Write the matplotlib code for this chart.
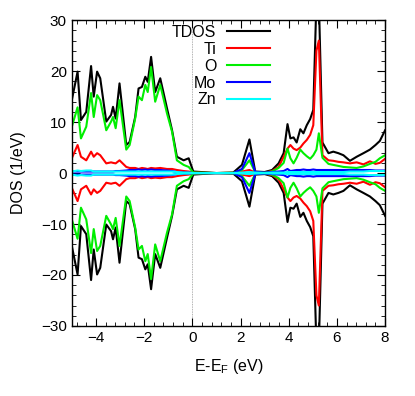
import matplotlib
matplotlib.use("Agg")
import matplotlib.pyplot as plt
from matplotlib.ticker import MultipleLocator

plt.rcParams['font.family'] = ['Liberation Sans', 'DejaVu Sans']
plt.rcParams['font.size'] = 11
plt.rcParams['mathtext.fontset'] = 'custom'
plt.rcParams['mathtext.rm'] = 'Liberation Sans'
plt.rcParams['mathtext.it'] = 'Liberation Sans'

# energy grid (eV, relative to E_F)
energy = [-5.0, -4.76, -4.62, -4.40, -4.20, -4.09, -3.95, -3.82, -3.57, -3.37,
          -3.29, -3.18, -3.02, -2.74, -2.60, -2.37, -2.23, -2.09, -1.95, -1.85,
          -1.71, -1.54, -1.33, -1.05, -0.84, -0.64, -0.36, -0.15, 0.04, 1.0,
          1.70, 2.06, 2.37, 2.61, 3.0, 3.31, 3.58, 3.79, 3.95, 4.07,
          4.20, 4.33, 4.48, 4.61, 4.75, 4.89, 5.02, 5.15, 5.25, 5.40,
          5.65, 5.85, 6.06, 6.27, 6.54, 6.82, 7.1, 7.37, 7.6, 7.78, 8.0]

tdos = [14.3, 19.9, 10.4, 12.0, 21.0, 15.0, 19.9, 18.6, 10.1, 11.4,
        13.0, 10.7, 17.6, 5.5, 6.1, 11.0, 16.6, 16.9, 18.9, 17.9,
        22.8, 15.9, 18.6, 12.7, 8.4, 3.2, 2.5, 2.9, 0.3, 0.0,
        0.1, 1.6, 6.6, 0.3, 0.2, 0.6, 1.9, 3.9, 9.6, 6.8,
        7.0, 6.0, 8.6, 7.8, 9.4, 10.6, 12.4, 34.0, 34.0, 6.0,
        3.9, 4.2, 3.9, 3.5, 2.4, 3.2, 3.9, 4.6, 5.5, 6.3, 8.4]

ti = [2.9, 5.5, 3.2, 2.5, 4.2, 3.2, 3.9, 3.5, 1.9, 2.1,
      2.0, 1.9, 2.5, 1.2, 1.0, 1.0, 0.8, 1.0, 0.9, 0.8,
      1.0, 0.9, 1.0, 0.8, 0.8, 0.6, 0.4, 0.3, 0.1, 0.0,
      0.05, 0.3, 0.6, 0.1, 0.1, 0.4, 1.2, 3.2, 4.8, 5.5,
      4.8, 4.5, 5.0, 5.8, 6.5, 7.5, 9.4, 24.0, 26.0, 3.5,
      2.5, 2.4, 2.2, 2.1, 1.9, 2.1, 1.7, 2.3, 1.8, 2.0, 2.8]

o = [9.1, 12.9, 6.8, 9.1, 15.7, 11.0, 15.3, 14.3, 8.4, 10.1,
     11.0, 8.8, 14.3, 4.6, 5.5, 10.7, 15.0, 14.3, 17.3, 15.9,
     20.8, 14.0, 17.3, 11.7, 8.1, 2.5, 1.6, 1.2, 0.1, 0.0,
     0.05, 0.6, 2.5, 0.2, 0.1, 0.3, 1.0, 2.0, 4.8, 2.9,
     1.9, 3.0, 4.6, 3.9, 3.3, 2.8, 3.5, 4.6, 7.8, 3.0,
     1.8, 1.6, 1.4, 1.2, 1.1, 1.0, 1.3, 1.8, 2.2, 2.9, 3.5]

mo = [0.3, 0.3, 0.3, 0.3, 0.3, 0.3, 0.3, 0.3, 0.3, 0.3,
      0.3, 0.4, 0.4, 0.5, 0.6, 0.6, 0.7, 0.6, 0.7, 0.6,
      0.7, 0.6, 0.6, 0.5, 0.4, 0.2, 0.1, 0.1, 0.0, 0.0,
      0.0, 0.8, 3.9, 0.2, 0.1, 0.2, 0.3, 0.4, 0.8, 0.4,
      0.5, 0.6, 0.6, 0.7, 0.6, 0.6, 0.7, 0.6, 0.6, 0.6,
      0.6, 0.6, 0.6, 0.6, 0.6, 0.6, 0.6, 0.6, 0.5, 0.5, 0.5]

zn = [0.3, 0.5, 0.4, 0.5, 0.5, 0.3, 0.3, 0.3, 0.3, 0.3,
      0.3, 0.3, 0.3, 0.3, 0.3, 0.3, 0.3, 0.3, 0.3, 0.3,
      0.3, 0.3, 0.3, 0.3, 0.3, 0.2, 0.1, 0.1, 0.0, 0.0,
      0.0, 0.1, 0.2, 0.1, 0.0, 0.1, 0.1, 0.1, 0.2, 0.2,
      0.2, 0.2, 0.2, 0.2, 0.2, 0.2, 0.2, 0.2, 0.2, 0.2,
      0.2, 0.2, 0.2, 0.2, 0.3, 0.3, 0.3, 0.4, 0.4, 0.4, 0.4]

series = [("TDOS", tdos, "black"), ("Ti", ti, "#ff0000"), ("O", o, "#00ee00"),
          ("Mo", mo, "#0000ff"), ("Zn", zn, "#00ffff")]

fig = plt.figure(figsize=(4.15, 3.96), dpi=100)
ax = fig.add_axes([0.173, 0.177, 0.755, 0.772])

ax.axvline(0, color="#999999", lw=0.6, ls=(0, (1, 1)), zorder=0)
for name, vals, col in series:
    ax.plot(energy, vals, color=col, lw=1.5, label=name)
    ax.plot(energy, [-v for v in vals], color=col, lw=1.5)

ax.set_xlim(-5, 8)
ax.set_ylim(-30, 30)
ax.xaxis.set_major_locator(MultipleLocator(2))
ax.xaxis.set_minor_locator(MultipleLocator(0.4))
ax.yaxis.set_major_locator(MultipleLocator(10))
ax.yaxis.set_minor_locator(MultipleLocator(2))
ax.tick_params(which="both", direction="in", top=True, right=True, labelsize=11)
ax.tick_params(which="major", length=6)
ax.tick_params(which="minor", length=3)
for s in ax.spines.values():
    s.set_linewidth(1.0)

ax.set_xlabel("E-E$_\\mathregular{F}$ (eV)", fontsize=11.5, labelpad=9)
ax.set_ylabel("DOS (1/eV)", fontsize=11.5, labelpad=11)

leg = ax.legend(loc="upper right", bbox_to_anchor=(0.632, 0.985), markerfirst=False,
                frameon=False, handlelength=2.7, handletextpad=0.65,
                labelspacing=0.12, borderpad=0, borderaxespad=0, fontsize=11.5)

fig.savefig("out.png", dpi=100)
